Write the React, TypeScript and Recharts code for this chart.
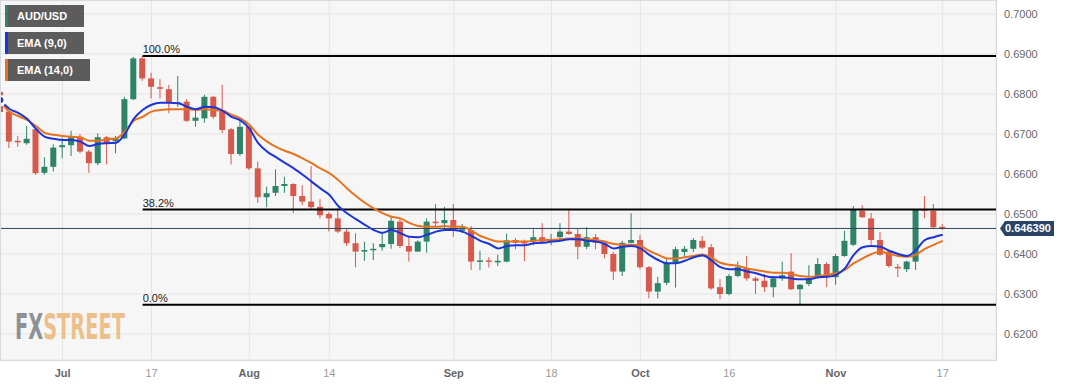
import * as React from "react"
import { ComposedChart, Bar, Line, XAxis, YAxis, CartesianGrid, ReferenceLine } from "recharts"

// trading days, Jun 22 .. Nov 17
const dates = [
  "06-22", "06-23", "06-26", "06-27", "06-28", "06-29", "06-30",
  "07-03", "07-04", "07-05", "07-06", "07-07", "07-10", "07-11", "07-12", "07-13", "07-14",
  "07-17", "07-18", "07-19", "07-20", "07-21", "07-24", "07-25", "07-26", "07-27", "07-28", "07-31",
  "08-01", "08-02", "08-03", "08-04", "08-07", "08-08", "08-09", "08-10", "08-11",
  "08-14", "08-15", "08-16", "08-17", "08-18", "08-21", "08-22", "08-23", "08-24", "08-25",
  "08-28", "08-29", "08-30", "08-31",
  "09-01", "09-04", "09-05", "09-06", "09-07", "09-08", "09-11", "09-12", "09-13", "09-14", "09-15",
  "09-18", "09-19", "09-20", "09-21", "09-22", "09-25", "09-26", "09-27", "09-28", "09-29",
  "10-02", "10-03", "10-04", "10-05", "10-06", "10-09", "10-10", "10-11", "10-12", "10-13",
  "10-16", "10-17", "10-18", "10-19", "10-20", "10-23", "10-24", "10-25", "10-26", "10-27", "10-30", "10-31",
  "11-01", "11-02", "11-03", "11-06", "11-07", "11-08", "11-09", "11-10", "11-13", "11-14", "11-15", "11-16", "11-17",
]

const opens = [
  0.6805, 0.6756, 0.6683, 0.6677, 0.6712, 0.6603, 0.6618,
  0.6667, 0.6672, 0.6692, 0.6656, 0.6627, 0.6692, 0.6682, 0.6689, 0.6787, 0.6889,
  0.6839, 0.6817, 0.6812, 0.6775, 0.6781, 0.6733, 0.6739, 0.6793, 0.6760, 0.6712, 0.6650,
  0.6718, 0.6614, 0.6542, 0.6553, 0.6570, 0.6575, 0.6545, 0.6531, 0.6518,
  0.6500, 0.6489, 0.6456, 0.6427, 0.6406, 0.6410, 0.6417, 0.6425, 0.6481, 0.6420,
  0.6406, 0.6431, 0.6481, 0.6477,
  0.6485, 0.6458, 0.6460, 0.6382, 0.6384, 0.6381, 0.6381, 0.6435, 0.6430, 0.6431, 0.6442,
  0.6431, 0.6442, 0.6456, 0.6450, 0.6418, 0.6442, 0.6427, 0.6400, 0.6356, 0.6428,
  0.6435, 0.6367, 0.6306, 0.6328, 0.6378, 0.6405, 0.6413, 0.6433, 0.6417, 0.6317,
  0.6300, 0.6345, 0.6364, 0.6339, 0.6333, 0.6317, 0.6339, 0.6356, 0.6312, 0.6325, 0.6340, 0.6375,
  0.6342, 0.6395, 0.6423, 0.6508, 0.6489, 0.6435, 0.6406, 0.6368, 0.6362, 0.6381, 0.6512, 0.6508, 0.6468,
]
const highs = [
  0.6812, 0.6758, 0.6695, 0.6720, 0.6715, 0.6642, 0.6674,
  0.6691, 0.6708, 0.6700, 0.6660, 0.6702, 0.6695, 0.6695, 0.6793, 0.6893, 0.6895,
  0.6853, 0.6837, 0.6823, 0.6845, 0.6787, 0.6760, 0.6798, 0.6795, 0.6823, 0.6715, 0.6739,
  0.6720, 0.6631, 0.6568, 0.6612, 0.6593, 0.6577, 0.6572, 0.6620, 0.6537,
  0.6505, 0.6514, 0.6464, 0.6452, 0.6431, 0.6427, 0.6453, 0.6492, 0.6490, 0.6443,
  0.6434, 0.6489, 0.6525, 0.6518,
  0.6525, 0.6475, 0.6470, 0.6408, 0.6392, 0.6398, 0.6451, 0.6440, 0.6436, 0.6462, 0.6477,
  0.6450, 0.6477, 0.6510, 0.6464, 0.6467, 0.6450, 0.6432, 0.6405, 0.6433, 0.6502,
  0.6447, 0.6370, 0.6343, 0.6388, 0.6418, 0.6420, 0.6440, 0.6445, 0.6425, 0.6337,
  0.6350, 0.6381, 0.6395, 0.6343, 0.6350, 0.6345, 0.6381, 0.6402, 0.6325, 0.6372, 0.6390, 0.6380,
  0.6400, 0.6458, 0.6520, 0.6522, 0.6503, 0.6455, 0.6408, 0.6375, 0.6383, 0.6512, 0.6545, 0.6525, 0.6475,
]
const lows = [
  0.6750, 0.6665, 0.6668, 0.6673, 0.6598, 0.6598, 0.6606,
  0.6639, 0.6645, 0.6652, 0.6603, 0.6622, 0.6624, 0.6652, 0.6687, 0.6785, 0.6833,
  0.6789, 0.6789, 0.6752, 0.6768, 0.6730, 0.6718, 0.6728, 0.6738, 0.6702, 0.6624, 0.6645,
  0.6610, 0.6528, 0.6517, 0.6545, 0.6553, 0.6502, 0.6522, 0.6512, 0.6489,
  0.6456, 0.6452, 0.6420, 0.6367, 0.6383, 0.6385, 0.6408, 0.6413, 0.6415, 0.6381,
  0.6405, 0.6403, 0.6468, 0.6464,
  0.6443, 0.6452, 0.6360, 0.6360, 0.6366, 0.6370, 0.6379, 0.6412, 0.6382, 0.6422, 0.6427,
  0.6422, 0.6437, 0.6448, 0.6387, 0.6412, 0.6412, 0.6389, 0.6335, 0.6345, 0.6427,
  0.6362, 0.6289, 0.6289, 0.6322, 0.6316, 0.6392, 0.6405, 0.6412, 0.6310, 0.6287,
  0.6297, 0.6342, 0.6333, 0.6300, 0.6305, 0.6292, 0.6333, 0.6310, 0.6273, 0.6320, 0.6338, 0.6317,
  0.6323, 0.6393, 0.6420, 0.6490, 0.6423, 0.6396, 0.6366, 0.6342, 0.6355, 0.6360, 0.6489, 0.6462, 0.6460,
]
const closes = [
  0.6755, 0.6681, 0.6680, 0.6688, 0.6602, 0.6618, 0.6666,
  0.6672, 0.6692, 0.6656, 0.6627, 0.6692, 0.6677, 0.6690, 0.6787, 0.6889, 0.6839,
  0.6818, 0.6813, 0.6777, 0.6779, 0.6733, 0.6741, 0.6793, 0.6743, 0.6710, 0.6650, 0.6718,
  0.6614, 0.6542, 0.6552, 0.6570, 0.6575, 0.6545, 0.6531, 0.6517, 0.6497,
  0.6489, 0.6456, 0.6427, 0.6406, 0.6410, 0.6413, 0.6425, 0.6483, 0.6420, 0.6406,
  0.6431, 0.6481, 0.6477, 0.6485,
  0.6458, 0.6462, 0.6381, 0.6384, 0.6381, 0.6383, 0.6434, 0.6428, 0.6427, 0.6442, 0.6431,
  0.6436, 0.6456, 0.6450, 0.6418, 0.6442, 0.6428, 0.6400, 0.6356, 0.6428, 0.6435,
  0.6367, 0.6306, 0.6327, 0.6377, 0.6412, 0.6413, 0.6435, 0.6416, 0.6314, 0.6300,
  0.6345, 0.6367, 0.6339, 0.6333, 0.6317, 0.6339, 0.6347, 0.6312, 0.6323, 0.6340, 0.6375, 0.6342,
  0.6395, 0.6433, 0.6512, 0.6492, 0.6435, 0.6398, 0.6370, 0.6364, 0.6381, 0.6510, 0.6508, 0.6467, 0.6464,
]

const ema9 = [
  0.6785, 0.6763, 0.6753, 0.6738, 0.6713, 0.6693, 0.6688,
  0.6685, 0.6685, 0.6681, 0.6670, 0.6675, 0.6677, 0.6678, 0.6700, 0.6738, 0.6760,
  0.6773, 0.6778, 0.6778, 0.6777, 0.6768, 0.6762, 0.6768, 0.6767, 0.6758, 0.6743, 0.6734,
  0.6714, 0.6677, 0.6656, 0.6642, 0.6628, 0.6614, 0.6598, 0.6581, 0.6564,
  0.6548, 0.6520, 0.6502, 0.6487, 0.6473, 0.6460, 0.6453, 0.6460, 0.6452, 0.6443,
  0.6442, 0.6448, 0.6456, 0.6460,
  0.6460, 0.6456, 0.6445, 0.6433, 0.6425, 0.6414, 0.6420, 0.6422, 0.6422, 0.6427, 0.6428,
  0.6431, 0.6433, 0.6437, 0.6437, 0.6433, 0.6431, 0.6425, 0.6414, 0.6418, 0.6420,
  0.6414, 0.6398, 0.6385, 0.6377, 0.6377, 0.6383, 0.6392, 0.6396, 0.6384, 0.6367,
  0.6362, 0.6362, 0.6356, 0.6352, 0.6345, 0.6342, 0.6342, 0.6339, 0.6337, 0.6337, 0.6342, 0.6343,
  0.6348, 0.6364, 0.6398, 0.6417, 0.6420, 0.6418, 0.6408, 0.6400, 0.6395, 0.6410, 0.6435, 0.6442, 0.6448,
]
const ema14 = [
  0.6781, 0.6756, 0.6745, 0.6735, 0.6720, 0.6703, 0.6698,
  0.6695, 0.6693, 0.6692, 0.6683, 0.6683, 0.6687, 0.6689, 0.6706, 0.6733, 0.6743,
  0.6756, 0.6760, 0.6762, 0.6762, 0.6762, 0.6760, 0.6762, 0.6760, 0.6758, 0.6748, 0.6739,
  0.6723, 0.6698, 0.6681, 0.6668, 0.6658, 0.6650, 0.6639, 0.6627, 0.6614,
  0.6602, 0.6585, 0.6564, 0.6545, 0.6528, 0.6514, 0.6502, 0.6493, 0.6489, 0.6478,
  0.6470, 0.6468, 0.6468, 0.6470,
  0.6468, 0.6468, 0.6458, 0.6445, 0.6437, 0.6431, 0.6431, 0.6431, 0.6431, 0.6433, 0.6435,
  0.6435, 0.6437, 0.6439, 0.6439, 0.6437, 0.6435, 0.6431, 0.6425, 0.6423, 0.6423,
  0.6420, 0.6408, 0.6398, 0.6389, 0.6389, 0.6392, 0.6395, 0.6399, 0.6391, 0.6378,
  0.6373, 0.6370, 0.6364, 0.6360, 0.6356, 0.6353, 0.6353, 0.6350, 0.6345, 0.6343, 0.6345, 0.6348,
  0.6352, 0.6360, 0.6377, 0.6389, 0.6400, 0.6406, 0.6400, 0.6395, 0.6393, 0.6398, 0.6413, 0.6423, 0.6433,
]

const lastPrice = 0.64639
const fibStart = "07-14"
const fibLevels = [
  { label: "100.0%", price: 0.6895 },
  { label: "38.2%", price: 0.6511 },
  { label: "0.0%", price: 0.6273 },
]

const tickDates = ["07-03", "07-17", "08-01", "08-14", "09-01", "09-18", "10-02", "10-16", "11-01", "11-17"]
const tickLabels = ["Jul", "17", "Aug", "14", "Sep", "18", "Oct", "16", "Nov", "17"]
const priceTicks = [0.62, 0.63, 0.64, 0.65, 0.66, 0.67, 0.68, 0.69, 0.7]

const GREEN = "#2f8468"
const RED = "#d65a4b"
const BLUE = "#1d35d8"
const ORANGE = "#e8731e"
const FONT = "'Liberation Sans', Arial, sans-serif"
const NARROW = "'Liberation Sans Narrow', 'DejaVu Sans Condensed', sans-serif"

const rows = dates.map((d, i) => ({
  i,
  date: d,
  open: opens[i],
  high: highs[i],
  low: lows[i],
  close: closes[i],
  ema9: ema9[i],
  ema14: ema14[i],
}))

const tickIdx = tickDates.map((d) => dates.indexOf(d))
const fibIdx = dates.indexOf(fibStart)

const Candle = (props: any) => {
  const { x, y, width, height, payload } = props
  if (x == null || !payload) return null
  const { open, close, high, low } = payload
  const color = close >= open ? GREEN : RED
  const k = height / (high - low || 1)
  const top = y + (high - Math.max(open, close)) * k
  const bot = y + (high - Math.min(open, close)) * k
  const cx = x + width / 2
  return (
    <g>
      <line x1={cx} x2={cx} y1={y} y2={y + height} stroke={color} strokeWidth={1} />
      <rect x={x} y={top} width={width} height={Math.max(1.5, bot - top)} fill={color} />
    </g>
  )
}

const XTick = (props: any) => {
  const { x, y, payload } = props
  const label = tickLabels[tickIdx.indexOf(payload.value)]
  const month = isNaN(Number(label))
  return (
    <text x={x} y={y} dy={9} textAnchor="middle" fontFamily={FONT} fontSize={11}
      fontWeight={month ? 700 : 400} fill={month ? "#666" : "#9a9a9a"}>
      {label}
    </text>
  )
}

const YTick = (props: any) => {
  const { x, y, payload } = props
  return (
    <text x={x} y={y} dy={4} textAnchor="start" fontFamily={FONT} fontSize={11} fill="#666">
      {Number(payload.value).toFixed(4)}
    </text>
  )
}

const PriceTag = (props: any) => {
  const vb = props.viewBox
  if (!vb) return null
  const px = vb.x + vb.width
  const py = vb.y
  return (
    <g>
      <path d={`M${px + 4},${py} L${px + 9},${py - 7.5} H${px + 58} V${py + 7.5} H${px + 9} Z`} fill="#2b4466" />
      <text x={px + 9} y={py + 4} fontFamily={FONT} fontSize={11} fontWeight={700} fill="#fff">
        {lastPrice.toFixed(6)}
      </text>
    </g>
  )
}

const fibLabel = (text: string) => (props: any) => {
  const vb = props.viewBox
  if (!vb) return null
  return (
    <text x={vb.x} y={vb.y - 3} fontFamily={FONT} fontSize={11} fill="#222">
      {text}
    </text>
  )
}

const legend = [
  { name: "AUD/USD", color: GREEN, width: 79 },
  { name: "EMA (9,0)", color: BLUE, width: 79 },
  { name: "EMA (14,0)", color: ORANGE, width: 85 },
]

// logo squeezed to its condensed shape after measuring
function Watermark() {
  const ref = React.useRef<HTMLDivElement>(null)
  const [sx, setSx] = React.useState(0.7)
  React.useLayoutEffect(() => {
    const w = ref.current ? ref.current.scrollWidth : 0
    if (w > 0) setSx(110 / w)
  }, [])
  return (
    <div ref={ref} style={{
      position: "absolute", left: 15, top: 310, whiteSpace: "nowrap", fontFamily: NARROW, fontWeight: 700,
      fontSize: 35, lineHeight: "35px", transform: `scaleX(${sx})`, transformOrigin: "0 0", pointerEvents: "none",
    }}>
      <span style={{ color: "#8d9097" }}>FX</span><span style={{ color: "#edc08a" }}>STREET</span>
    </div>
  )
}

export default function App() {
  return (
    <div style={{ position: "absolute", left: 0, top: 0, width: 1067, height: 386, background: "#fff" }}>
      <ComposedChart width={1067} height={386} data={rows} margin={{ top: 0, right: 0, bottom: 0, left: 0 }}>
        <CartesianGrid stroke="#e4e4e4" fill="#f6f6f6" />
        <XAxis type="number" dataKey="i" domain={[-0.045, 112]} ticks={tickIdx} tick={<XTick />}
          axisLine={false} tickLine={false} height={26} allowDataOverflow interval={0} />
        <YAxis orientation="right" domain={[0.6135, 0.7035]} ticks={priceTicks} tick={<YTick />}
          axisLine={false} tickLine={false} width={71} allowDataOverflow interval={0} />
        <ReferenceLine y={lastPrice} stroke="#2b4466" strokeWidth={1} label={<PriceTag />} />
        {fibLevels.map((f) => (
          <ReferenceLine key={f.label} segment={[{ x: fibIdx, y: f.price }, { x: 112, y: f.price }]}
            stroke="#000" strokeWidth={2} label={fibLabel(f.label)} />
        ))}
        <Bar dataKey={(d: any) => [d.low, d.high]} barSize={6} shape={<Candle />} isAnimationActive={false} />
        <Line dataKey="ema14" type="monotone" stroke={ORANGE} strokeWidth={2} dot={false} isAnimationActive={false} />
        <Line dataKey="ema9" type="monotone" stroke={BLUE} strokeWidth={2} dot={false} isAnimationActive={false} />
      </ComposedChart>
      <div style={{ position: "absolute", left: 0, top: 0, width: 995, height: 359, border: "1px solid #d6dbe2", pointerEvents: "none" }} />
      {legend.map((l, k) => (
        <div key={l.name} style={{
          position: "absolute", left: 5, top: 5 + k * 27, width: l.width, height: 22, background: "#5c5c5c",
          borderLeft: `3px solid ${l.color}`, boxSizing: "border-box", color: "#fff", fontFamily: FONT,
          fontWeight: 700, fontSize: 11, lineHeight: "22px", paddingLeft: 9,
        }}>{l.name}</div>
      ))}
      <Watermark />
    </div>
  )
}
